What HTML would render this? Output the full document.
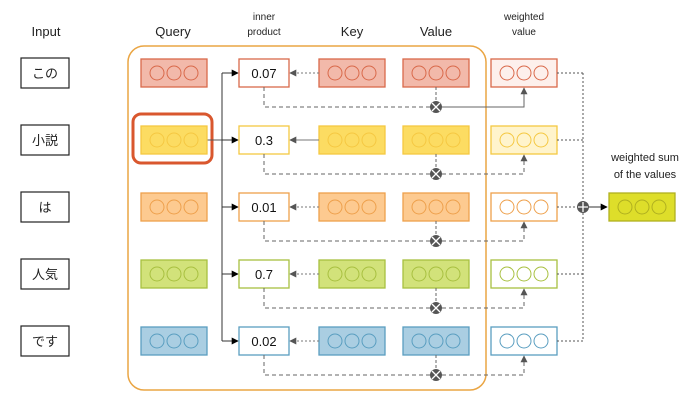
<!DOCTYPE html>
<html><head><meta charset="utf-8"><style>
body{margin:0;background:#fff;}
svg{display:block;font-family:"Liberation Sans","Noto Sans CJK JP",sans-serif;}
</style></head><body>
<svg id="d" width="687" height="412" viewBox="0 0 687 412">
<defs>
<marker id="ah" viewBox="0 0 10 10" refX="9" refY="5" markerWidth="7" markerHeight="7" orient="auto"><path d="M0,0L10,5L0,10z" fill="#555"/></marker>
<marker id="ahb" viewBox="0 0 10 10" refX="9" refY="5" markerWidth="7" markerHeight="7" orient="auto"><path d="M0,0L10,5L0,10z" fill="#000"/></marker>
</defs>
<rect x="128" y="46" width="358" height="344" rx="16" fill="none" stroke="#eaa543" stroke-width="1.5"/>
<rect x="133" y="114" width="79" height="49" rx="8" fill="none" stroke="#d9572e" stroke-width="3"/>
<g font-size="13" fill="#222" text-anchor="middle">
<text x="46" y="36">Input</text>
<text x="173" y="36">Query</text>
<text x="264" y="20" font-size="10">inner</text>
<text x="264" y="35" font-size="10">product</text>
<text x="352" y="36">Key</text>
<text x="436" y="36">Value</text>
<text x="524" y="20" font-size="10">weighted</text>
<text x="524" y="35" font-size="10">value</text>
<text x="645" y="161" font-size="11">weighted sum</text>
<text x="645" y="178" font-size="11">of the values</text>
</g>
<g id="rows"></g>
</svg>
<script>
const words=["この","小説","は","人気","です"];
const scores=["0.07","0.3","0.01","0.7","0.02"];
const fills=["#f2b9aa","#fcdc62","#fdca90","#d2e27a","#aacee2"];
const strokes=["#d9694a","#f5c842","#eea04c","#a8c040","#5a9ec0"];
const wfills=["#fdf0ec","#fff4cc","#ffffff","#ffffff","#ffffff"];
const NS="http://www.w3.org/2000/svg";
const g=document.getElementById('rows');
function mk(t,a,p){const e=document.createElementNS(NS,t);for(const k in a)e.setAttribute(k,a[k]);(p||g).appendChild(e);return e;}
function rowY(i){return 73+i*67;}
function vecBox(x,y,fill,stroke,name){
  const gg=mk('g',{});
  
  
  mk('rect',{x:x,y:y-14,width:66,height:28,fill:fill,stroke:stroke,'stroke-width':1.3},gg);
  for(let k=-1;k<=1;k++)mk('circle',{cx:x+33+k*17,cy:y,r:7,fill:'none',stroke:stroke,'stroke-width':1},gg);
}
const q=rowY(1);
mk('line',{x1:207,y1:q,x2:222,y2:q,stroke:'#555','stroke-width':1});
mk('line',{x1:222,y1:rowY(0),x2:222,y2:rowY(4),stroke:'#333','stroke-width':1});
mk('line',{x1:583,y1:rowY(0),x2:583,y2:rowY(4),stroke:'#555','stroke-width':1,'stroke-dasharray':'2,2'});
words.forEach((w,i)=>{
  const y=rowY(i);
  const ib=mk('rect',{x:21,y:y-15,width:48,height:30,fill:'#fff',stroke:'#222','stroke-width':1.2});
  
  
  const t=mk('text',{x:45,y:y+5,'font-size':13,'text-anchor':'middle',fill:'#222'});t.textContent=w;
  
  
  vecBox(141,y,fills[i],strokes[i],'query-vector');
  vecBox(319,y,fills[i],strokes[i],'key-vector');
  vecBox(403,y,fills[i],strokes[i],'value-vector');
  vecBox(491,y,wfills[i],strokes[i],'weighted-value-vector');
  mk('line',{x1:222,y1:y,x2:238,y2:y,stroke:'#333','stroke-width':1,'marker-end':'url(#ahb)'});
  mk('line',{x1:319,y1:y,x2:290,y2:y,stroke:'#777','stroke-width':1,'stroke-dasharray':i==1?'':'2,2','marker-end':'url(#ah)'});
  const sb=mk('rect',{x:239,y:y-14,width:50,height:28,fill:'#fff',stroke:strokes[i],'stroke-width':1.3});
  
  
  const st=mk('text',{x:264,y:y+5,'font-size':13,'text-anchor':'middle',fill:'#111'});st.textContent=scores[i];
  
  
  const my=y+34;
  mk('path',{d:`M264,${y+14}V${my}H431`,fill:'none',stroke:'#666','stroke-width':1,'stroke-dasharray':'4,3'});
  mk('line',{x1:436,y1:y+14,x2:436,y2:my-6,stroke:'#666','stroke-width':1,'stroke-dasharray':'3,2'});
  mk('path',{d:`M442,${my}H524V${y+15}`,fill:'none',stroke:'#666','stroke-width':1,'stroke-dasharray':i==0?'':'4,3','marker-end':'url(#ah)'});
  const c=mk('circle',{cx:436,cy:my,r:6,fill:'#555'});
  
  
  mk('path',{d:`M432,${my-4}L440,${my+4}M440,${my-4}L432,${my+4}`,stroke:'#fff','stroke-width':1.3});
  mk('line',{x1:557,y1:y,x2:583,y2:y,stroke:'#555','stroke-width':1,'stroke-dasharray':'2,2'});
});
const sy=rowY(2);
mk('line',{x1:589,y1:sy,x2:607,y2:sy,stroke:'#333','stroke-width':1,'marker-end':'url(#ahb)'});
const pc=mk('circle',{cx:583,cy:sy,r:6,fill:'#555'});


mk('path',{d:`M583,${sy-5}V${sy+5}M578,${sy}H588`,stroke:'#fff','stroke-width':1.3});
vecBox(609,sy,'#dede2a','#b0b020','weighted-sum-vector');
</script>
</body></html>
